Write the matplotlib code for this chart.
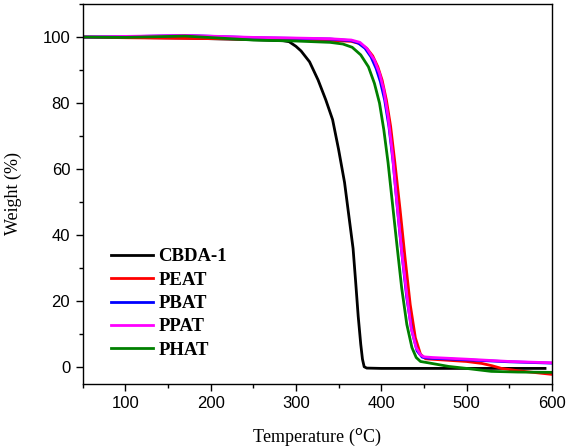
import matplotlib
matplotlib.use("Agg")
import matplotlib.pyplot as plt
from matplotlib.ticker import MultipleLocator

# TGA curves (temperature in C, weight in %)
t_cbda = [50, 100, 170, 250, 285, 292, 300, 306, 316, 326, 335, 343, 350, 357, 362, 367, 370, 373, 376, 378, 380, 383, 400, 450, 500, 550, 592]
w_cbda = [100, 99.9, 99.7, 99.2, 98.9, 98.6, 97.2, 95.8, 92.5, 87, 81, 75, 66, 56, 46, 36, 26, 15.5, 7, 2.5, 0.2, -0.2, -0.3, -0.3, -0.3, -0.3, -0.3]

t_peat = [50, 100, 170, 250, 300, 340, 365, 375, 383, 390, 396, 401, 406, 411, 416, 422, 428, 434, 440, 446, 452, 470, 500, 518, 530, 541, 560, 600]
w_peat = [100, 99.8, 99.6, 99.4, 99.2, 99.0, 98.7, 98.0, 96.6, 94.3, 91, 87, 81, 73, 62, 48, 33, 19, 9, 4, 2.6, 2.3, 1.8, 1.2, 0.5, -0.3, -1.0, -2.1]

t_pbat = [50, 100, 170, 250, 300, 340, 365, 373, 381, 388, 394, 399, 404, 409, 414, 419, 424, 430, 436, 442, 448, 455, 500, 550, 600]
w_pbat = [100, 100.1, 100.5, 99.8, 99.6, 99.4, 98.9, 98.2, 96.6, 94, 90.5, 86.5, 81, 73, 62, 48, 35, 21, 11, 5, 3.1, 2.8, 2.3, 1.7, 1.3]

t_ppat = [50, 100, 170, 250, 300, 340, 365, 375, 383, 392, 398, 403, 408, 413, 418, 424, 430, 435, 441, 446, 450, 460, 500, 550, 600]
w_ppat = [100, 100.2, 100.5, 99.9, 99.7, 99.5, 99.1, 98.4, 96.6, 93, 89, 84, 76, 65, 51, 35, 22, 12, 6, 3.8, 3.2, 3.0, 2.5, 1.8, 1.4]

t_phat = [50, 100, 170, 250, 300, 340, 355, 366, 376, 385, 392, 398, 403, 408, 413, 418, 424, 430, 436, 441, 446, 455, 479, 500, 529, 560, 600]
w_phat = [100, 99.9, 100.3, 99.1, 98.8, 98.4, 97.9, 96.9, 94.6, 91, 86, 80, 72, 62, 50, 38, 24, 13, 6, 3, 1.8, 1.4, 0.3, -0.3, -1.2, -1.4, -1.5]

labels = ["CBDA-1", "PEAT", "PBAT", "PPAT", "PHAT"]
colors = ["black", "red", "blue", "magenta", "green"]

fig = plt.figure(figsize=(5.66, 4.48), dpi=100)
ax = fig.add_axes([0.146, 0.143, 0.829, 0.848])

series = [(t_cbda, w_cbda), (t_peat, w_peat), (t_pbat, w_pbat), (t_ppat, w_ppat), (t_phat, w_phat)]
for (t, w), lab, c in zip(series, labels, colors):
    ax.plot(t, w, color=c, lw=2, label=lab)

ax.set_xlim(50, 600)
ax.set_ylim(-5, 110)
ax.xaxis.set_major_locator(MultipleLocator(100))
ax.xaxis.set_minor_locator(MultipleLocator(50))
ax.yaxis.set_major_locator(MultipleLocator(20))
ax.yaxis.set_minor_locator(MultipleLocator(10))
ax.tick_params(which="both", direction="out", width=1, labelsize=12, pad=4)
ax.tick_params(which="major", length=5)
ax.tick_params(which="minor", length=3)
for lbl in ax.get_xticklabels() + ax.get_yticklabels():
    lbl.set_fontfamily("Liberation Sans")
for s in ax.spines.values():
    s.set_linewidth(1)

ax.set_xlabel("Temperature ($^{\\rm o}$C)", fontfamily="Liberation Serif", fontsize=13, labelpad=11)
ax.set_ylabel("Weight (%)", fontfamily="Liberation Serif", fontsize=13, labelpad=15)

ax.legend(loc="lower left", bbox_to_anchor=(0.024, 0.022), frameon=False,
          prop={"family": "Liberation Serif", "weight": "bold", "size": 13.5},
          handlelength=2.25, labelspacing=0.33, handletextpad=0.3)

fig.savefig("out.png", dpi=100)
